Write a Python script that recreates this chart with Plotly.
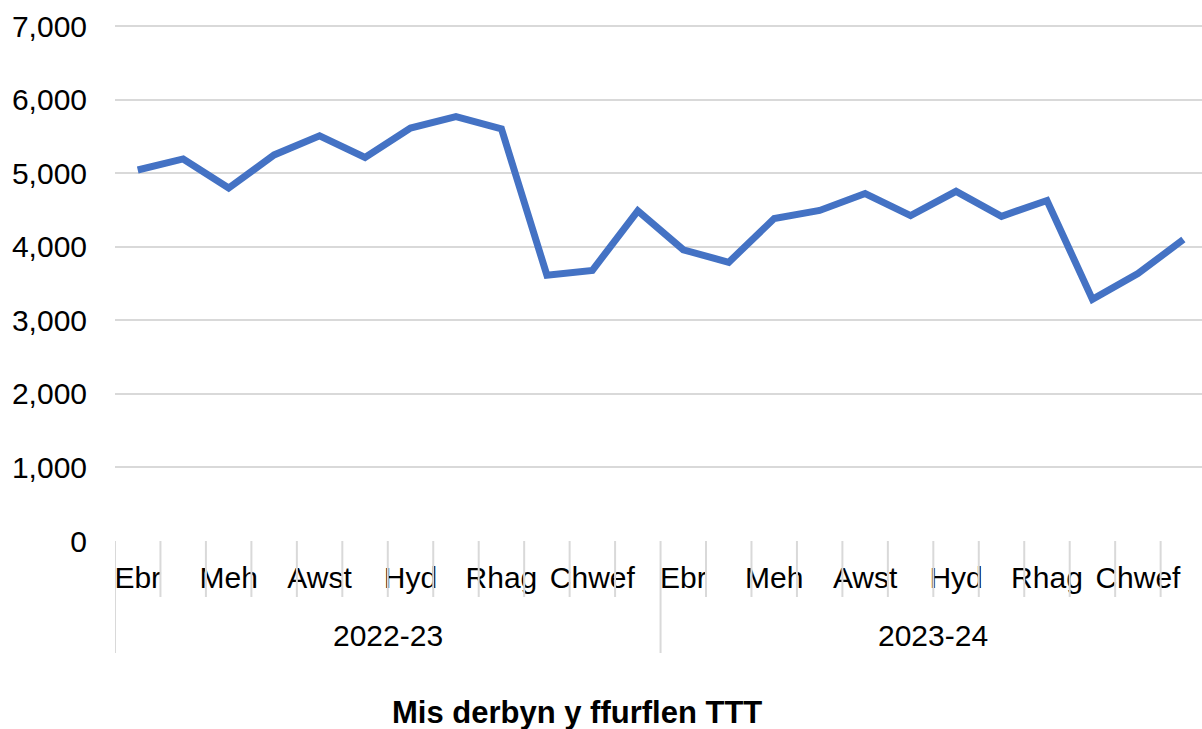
import plotly.graph_objects as go

# ---- data ----
months = ["Ebr", "Mai", "Meh", "Gorff", "Awst", "Medi", "Hyd", "Tach", "Rhag", "Ion", "Chwef", "Maw"]
years = ["2022-23", "2023-24"]
values_2022_23 = [5045, 5195, 4800, 5250, 5510, 5215, 5615, 5770, 5605, 3615, 3680, 4490]
values_2023_24 = [3960, 3790, 4385, 4495, 4725, 4425, 4755, 4415, 4630, 3285, 3635, 4100]
y_ticks = [0, 1000, 2000, 3000, 4000, 5000, 6000, 7000]
x_title = "Mis derbyn y ffurflen TTT"

values = values_2022_23 + values_2023_24
n = len(values)
idx = list(range(n))
labels = [months[i % 12] for i in idx]

FONT = "Liberation Sans, Arial, sans-serif"
GRID = "#d9d9d9"

fig = go.Figure()
fig.add_trace(go.Scatter(
    x=idx, y=values, mode="lines",
    line=dict(color="#4472C4", width=7),
    hoverinfo="y",
))

shapes = []
for i in range(n + 1):
    long = (i % 12 == 0)
    shapes.append(dict(
        type="line", xref="x", yref="paper",
        x0=i - 0.5, x1=i - 0.5,
        ysizemode="pixel", yanchor=0, y0=0, y1=-112 if long else -56,
        line=dict(color=GRID, width=2),
    ))

annotations = []
for g, yr in enumerate(years):
    annotations.append(dict(
        x=g * 12 + 5.5, xref="x", y=0, yref="paper", yshift=-94,
        text=yr, showarrow=False, yanchor="middle", xanchor="center",
        font=dict(family=FONT, size=30, color="#000000"),
    ))
annotations.append(dict(
    x=0.425, xref="paper", y=0, yref="paper", yshift=-171,
    text="<b>" + x_title + "</b>", showarrow=False, yanchor="middle", xanchor="center",
    font=dict(family=FONT, size=31, color="#000000"),
))

fig.update_layout(
    width=1202, height=729,
    margin=dict(l=115, r=0, t=23.5, b=188),
    paper_bgcolor="white", plot_bgcolor="white",
    showlegend=False,
    font=dict(family=FONT, size=30, color="#000000"),
    shapes=shapes,
    annotations=annotations,
    xaxis=dict(
        range=[-0.5, 23.41],
        tickvals=idx[::2], ticktext=labels[::2],
        showgrid=False, zeroline=False, showline=False,
        ticks="", ticklabelstandoff=16,
        tickfont=dict(family=FONT, size=30, color="#000000"),
    ),
    yaxis=dict(
        range=[0, 7030], tickvals=y_ticks, tickformat=",",
        showgrid=True, gridcolor=GRID, gridwidth=2,
        zeroline=False, showline=False, ticks="",
        ticklabelstandoff=27,
        tickfont=dict(family=FONT, size=30, color="#000000"),
    ),
)

fig.write_html("out.html", post_script="document.body.style.margin='0';",
               config={"displayModeBar": False})
